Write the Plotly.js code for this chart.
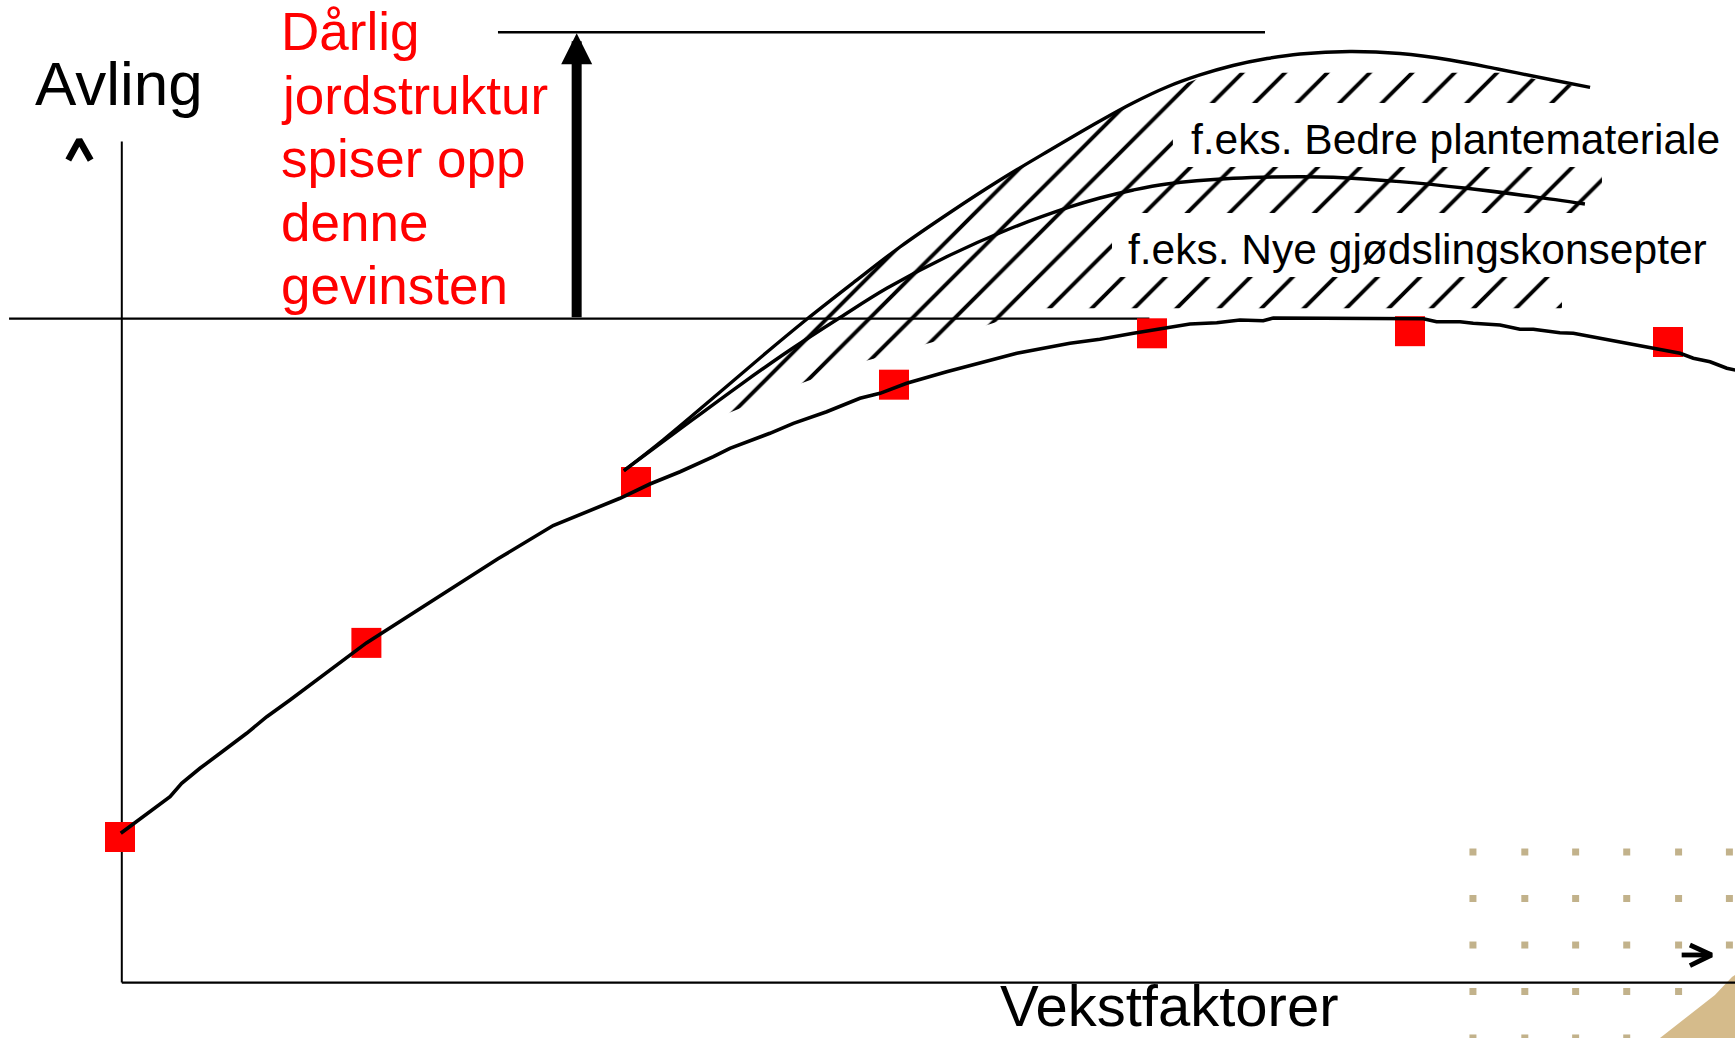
<!DOCTYPE html>
<html>
<head>
<meta charset="utf-8">
<script src="https://cdn.plot.ly/plotly-3.0.1.min.js"></script>
<style>
  html, body { margin: 0; padding: 0; background: #ffffff; }
  #chart { width: 1735px; height: 1038px; }
</style>
</head>
<body>
<div id="chart"></div>
<script>
// ---- Data (x: vekstfaktor steps, y: avling units; reference line = 10) ----
const markerX = [0, 0.955, 2.0, 3.0, 4.0, 5.0, 6.0];
const markerY = [2.193, 5.117, 7.540, 9.006, 9.780, 9.812, 9.649];

const mainX = [0.003, 0.052, 0.129, 0.194, 0.239, 0.310, 0.388, 0.491, 0.569, 0.659, 0.955, 1.250, 1.465, 1.679, 1.938, 2.054, 2.171, 2.300, 2.364, 2.519, 2.610, 2.739, 2.868, 2.946, 3.049, 3.204, 3.359, 3.476, 3.682, 3.798, 3.928, 4.031, 4.147, 4.251, 4.341, 4.431, 4.470, 5.052, 5.103, 5.194, 5.245, 5.349, 5.426, 5.478, 5.581, 5.633, 5.736, 5.866, 6.047, 6.098, 6.163, 6.228, 6.279];
const mainY = [2.249, 2.389, 2.600, 2.800, 3.002, 3.228, 3.454, 3.755, 4.005, 4.257, 5.117, 5.850, 6.384, 6.884, 7.295, 7.510, 7.695, 7.921, 8.048, 8.274, 8.424, 8.599, 8.801, 8.876, 9.027, 9.202, 9.352, 9.479, 9.629, 9.690, 9.780, 9.840, 9.920, 9.940, 9.980, 9.970, 10.011, 10.000, 9.955, 9.955, 9.931, 9.905, 9.840, 9.840, 9.789, 9.780, 9.705, 9.604, 9.479, 9.404, 9.352, 9.253, 9.212];

// "f.eks. Bedre plantemateriale"
const plantX = [1.953, 2.105, 2.326, 2.508, 2.663, 2.841, 3.023, 3.217, 3.411, 3.605, 3.798, 3.926, 4.058, 4.186, 4.314, 4.446, 4.574, 4.767, 4.961, 5.155, 5.349, 5.543, 5.698];
const plantY = [7.710, 8.173, 8.896, 9.498, 9.995, 10.538, 11.080, 11.600, 12.089, 12.541, 12.978, 13.249, 13.490, 13.671, 13.814, 13.919, 13.987, 14.025, 13.994, 13.897, 13.754, 13.603, 13.485];

// "f.eks. Nye gjødslingskonsepter"
const gjodselX = [1.953, 2.171, 2.403, 2.597, 2.791, 2.972, 3.204, 3.437, 3.682, 3.798, 3.928, 4.057, 4.315, 4.574, 4.703, 4.961, 5.220, 5.478, 5.678];
const gjodselY = [7.710, 8.339, 9.001, 9.529, 10.018, 10.458, 10.934, 11.336, 11.683, 11.818, 11.939, 12.029, 12.115, 12.139, 12.130, 12.064, 11.964, 11.838, 11.728];

// hatched potential area (outline)
const hatchX = [2.105, 2.326, 2.508, 2.663, 2.841, 3.023, 3.217, 3.411, 3.605, 3.798, 3.926, 4.058, 4.186, 4.244, 5.349, 5.504, 5.640, 5.640, 5.744, 5.744, 5.589, 5.589, 3.527, 3.430, 3.217, 3.032, 2.833, 2.623, 2.358, 2.105];
const hatchY = [8.173, 8.896, 9.498, 9.995, 10.538, 11.080, 11.600, 12.089, 12.541, 12.978, 13.249, 13.445, 13.626, 13.705, 13.705, 13.596, 13.505, 13.249, 12.285, 10.628, 10.628, 10.157, 10.157, 9.991, 9.720, 9.518, 9.302, 9.001, 8.575, 8.173];

// label boxes (white)
const box1X = [4.081, 6.30, 6.30, 4.081, 4.081];
const box1Y = [12.285, 12.285, 13.249, 13.249, 12.285];
const box2X = [3.845, 6.30, 6.30, 3.845, 3.845];
const box2Y = [10.628, 10.628, 11.592, 11.592, 10.628];

// reference lines
const refLineX = [-0.430, 3.99];
const refLineY = [10, 10];
const topLineX = [1.465, 4.438];
const topLineY = [14.314, 14.314];
const yAxisX = [0.007, 0.007];
const yAxisY = [0, 12.668];
const xAxisX = [0.007, 6.30];
const xAxisY = [0, 0];

// gain arrow
const gainX = 1.770;
const gainFrom = 10;
const gainTo = 14.299;

// small axis arrow glyphs
const caretX = [-0.2004, -0.1581, -0.1136];
const caretY = [12.390, 12.692, 12.390];
const rightArrowX = [6.053, 6.169, null, 6.085, 6.169, 6.085];
const rightArrowY = [0.416, 0.416, null, 0.566, 0.416, 0.255];

// slide background decoration
const dotCols = [5.244, 5.445, 5.642, 5.840, 6.041, 6.238];
const dotRows = [1.967, 1.267, 0.566, -0.134, -0.834];
const curlX = [5.969, 6.085, 6.182, 6.248, 6.279, 6.279];
const curlY = [-0.834, -0.488, -0.187, 0.084, 0.160, -0.864];

// texts
const redLines = ['Dårlig', 'jordstruktur', 'spiser opp', 'denne', 'gevinsten'];
const redLineY = [14.328, 13.369, 12.411, 11.453, 10.496];
const redX = 0.624;
const yLabel = 'Avling';
const yLabelPos = [-0.329, 13.543];
const xLabel = 'Vekstfaktorer';
const xLabelPos = [3.411, -0.351];
const label1 = 'f.eks. Bedre plantemateriale';
const label1Pos = [4.150, 12.692];
const label2 = 'f.eks. Nye gjødslingskonsepter';
const label2Pos = [3.908, 11.035];

// ---- build ----
const FONT = 'Liberation Sans, Arial, Helvetica, sans-serif';
const dotX = [], dotY = [];
dotRows.forEach(r => dotCols.forEach(c => { dotX.push(c); dotY.push(r); }));

const lineTrace = (x, y, w, extra) => Object.assign({
  type: 'scatter', mode: 'lines', x: x, y: y,
  line: { color: '#000000', width: w }, hoverinfo: 'skip'
}, extra || {});

const data = [
  { type: 'scatter', mode: 'markers', x: dotX, y: dotY,
    marker: { symbol: 'square', size: 7, color: '#c2b28b' }, hoverinfo: 'skip', cliponaxis: false },
  { type: 'scatter', mode: 'lines', x: curlX, y: curlY, fill: 'toself',
    fillcolor: '#d5bb8b', line: { width: 0 }, hoverinfo: 'skip' },
  { type: 'scatter', mode: 'lines', x: hatchX, y: hatchY, fill: 'toself',
    fillcolor: 'rgba(0,0,0,0)', line: { width: 0, color: 'rgba(0,0,0,0)' },
    fillpattern: { shape: '/', size: 30, solidity: 0.13, fgcolor: '#000000',
                   bgcolor: 'rgba(0,0,0,0)', fillmode: 'replace', fgopacity: 1 },
    hoverinfo: 'skip' },
  { type: 'scatter', mode: 'lines', x: box1X, y: box1Y, fill: 'toself',
    fillcolor: '#ffffff', line: { width: 0, color: '#ffffff' }, hoverinfo: 'skip' },
  { type: 'scatter', mode: 'lines', x: box2X, y: box2Y, fill: 'toself',
    fillcolor: '#ffffff', line: { width: 0, color: '#ffffff' }, hoverinfo: 'skip' },
  lineTrace(yAxisX, yAxisY, 2),
  lineTrace(xAxisX, xAxisY, 2.2),
  lineTrace(refLineX, refLineY, 2.2),
  lineTrace(topLineX, topLineY, 2.4),
  { type: 'scatter', mode: 'markers', x: markerX, y: markerY,
    marker: { symbol: 'square', size: 30, color: '#ff0000', line: { width: 0 } },
    hoverinfo: 'skip', cliponaxis: false },
  lineTrace(mainX, mainY, 3.6),
  lineTrace(plantX, plantY, 3.4, { line: { color: '#000000', width: 3.4, shape: 'spline', smoothing: 1 } }),
  lineTrace(gjodselX, gjodselY, 3.4, { line: { color: '#000000', width: 3.4, shape: 'spline', smoothing: 1 } }),
  lineTrace(caretX, caretY, 6.5),
  lineTrace(rightArrowX, rightArrowY, 4.8, { connectgaps: false })
];

const txt = (text, x, y, size, color) => ({
  text: text, x: x, y: y, xref: 'x', yref: 'y', xanchor: 'left', yanchor: 'middle',
  showarrow: false, borderpad: 0, borderwidth: 0,
  font: { family: FONT, size: size, color: color }
});

const annotations = [];
redLines.forEach((t, i) => annotations.push(txt(t, redX, redLineY[i], 53, '#ff0000')));
annotations.push(txt(yLabel, yLabelPos[0], yLabelPos[1], 62, '#000000'));
annotations.push(txt(xLabel, xLabelPos[0], xLabelPos[1], 58, '#000000'));
annotations.push(txt(label1, label1Pos[0], label1Pos[1], 42.5, '#000000'));
annotations.push(txt(label2, label2Pos[0], label2Pos[1], 42.5, '#000000'));
annotations.push({
  x: gainX, y: gainTo, ax: gainX, ay: gainFrom, xref: 'x', yref: 'y', axref: 'x', ayref: 'y',
  text: '', showarrow: true, arrowhead: 2, arrowsize: 0.62, arrowwidth: 10,
  arrowcolor: '#000000', standoff: 0, startstandoff: 0
});

const layout = {
  width: 1735, height: 1038,
  margin: { l: 0, r: 0, t: 0, b: 0, pad: 0 },
  paper_bgcolor: '#ffffff', plot_bgcolor: '#ffffff',
  showlegend: false, hovermode: false,
  xaxis: { range: [-0.4651, 6.2597], visible: false, fixedrange: true },
  yaxis: { range: [-0.8345, 14.8004], visible: false, fixedrange: true },
  annotations: annotations
};

Plotly.newPlot('chart', data, layout, { staticPlot: true, displayModeBar: false });
</script>
</body>
</html>
